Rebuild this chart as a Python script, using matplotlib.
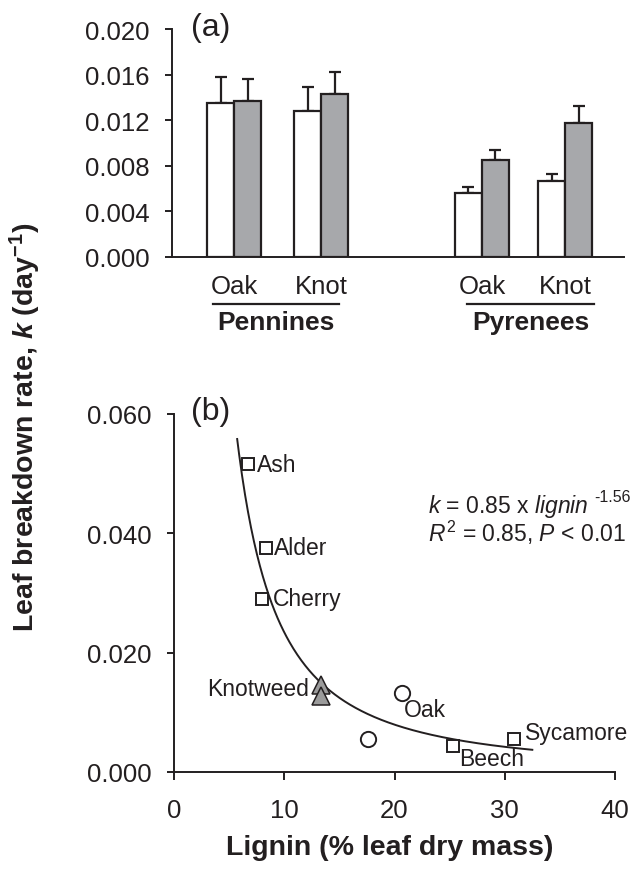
import numpy as np
import matplotlib
matplotlib.use("Agg")
import matplotlib.pyplot as plt
from matplotlib.transforms import blended_transform_factory

plt.rcParams['font.family'] = ['Liberation Sans', 'DejaVu Sans']
plt.rcParams['mathtext.fontset'] = 'custom'
plt.rcParams['mathtext.rm'] = 'Liberation Sans'
plt.rcParams['mathtext.it'] = 'Liberation Sans:italic'
plt.rcParams['mathtext.bf'] = 'Liberation Sans:bold:italic'
plt.rcParams['mathtext.sf'] = 'Liberation Sans:bold'

# ---------------- data: panel (a) ----------------
regions = ["Pennines", "Pyrenees"]
litter = ["Oak", "Knot", "Oak", "Knot"]
k_white = [0.01349, 0.01285, 0.00558, 0.00663]
k_white_err = [0.00233, 0.00210, 0.00058, 0.00064]
k_grey = [0.01366, 0.01434, 0.00855, 0.01177]
k_grey_err = [0.00196, 0.00192, 0.00082, 0.00146]
yticks_a = [0.000, 0.004, 0.008, 0.012, 0.016, 0.020]

# ---------------- data: panel (b) ----------------
species = ["Ash", "Alder", "Cherry", "Beech", "Sycamore"]
lignin_sq = [6.73, 8.33, 7.96, 25.34, 30.86]
k_sq = [0.0516, 0.0376, 0.0290, 0.0043, 0.0055]
lignin_oak = [20.66, 17.59]
k_oak = [0.0133, 0.0055]
lignin_knot = [13.36, 13.36]
k_knot = [0.0146, 0.0128]
fit_a, fit_b = 0.85, -1.56
fit_range = [5.73, 32.5]
xticks_b = [0, 10, 20, 30, 40]
yticks_b = [0.000, 0.020, 0.040, 0.060]

BLACK = '#231f20'
GREY_BAR = '#a7a8ab'
GREY_TRI = '#9b9b9b'
TICK_FS = 18.5
LAB_FS = 20.5
PANEL_FS = 23
PT_FS = 16.5

fig = plt.figure(figsize=(6.34, 8.79), dpi=100)

# ================= panel (a) =================
axa = fig.add_axes([172/634, 1-258/879, (624-172)/634, (258-30)/879])
centers = np.array([2.30, 5.52, 11.48, 14.56])
w = 1.0
ekw = dict(ecolor=BLACK, elinewidth=1.6, capsize=4.5, capthick=1.6)
axa.bar(centers - w/2, k_white, width=w, color='white', edgecolor=BLACK, linewidth=1.6, zorder=3)
axa.bar(centers + w/2, k_grey, width=w, color=GREY_BAR, edgecolor=BLACK, linewidth=1.6, zorder=3)
axa.errorbar(centers - w/2, k_white, yerr=[np.zeros(4), k_white_err], fmt='none', zorder=2, **ekw)
axa.errorbar(centers + w/2, k_grey, yerr=[np.zeros(4), k_grey_err], fmt='none', zorder=2, **ekw)
axa.set_xlim(0, 16.74)
axa.set_ylim(0, 0.020)
axa.set_yticks(yticks_a)
axa.set_yticklabels([f"{v:.3f}" for v in yticks_a])
axa.set_xticks(centers)
axa.set_xticklabels(litter)
for s in ['top', 'right']:
    axa.spines[s].set_visible(False)
for s in ['left', 'bottom']:
    axa.spines[s].set_linewidth(1.4)
    axa.spines[s].set_color(BLACK)
axa.tick_params(axis='y', direction='out', length=5, width=1.4, pad=11, labelsize=TICK_FS, colors=BLACK)
axa.tick_params(axis='x', length=0, pad=12, labelsize=TICK_FS, colors=BLACK)
fig.text(191/634, 1-28/879, "(a)", fontsize=PANEL_FS, va='center', ha='left', color=BLACK)

trans = blended_transform_factory(axa.transData, axa.transAxes)
group_spans = [(1.52, 6.19), (10.93, 15.63)]
for (x0, x1), name in zip(group_spans, regions):
    axa.plot([x0, x1], [-0.208, -0.208], color=BLACK, lw=1.6, transform=trans, clip_on=False)
    axa.text((x0 + x1)/2, -0.283, name, transform=trans, ha='center', va='center',
             fontsize=LAB_FS - 1.5, fontweight='bold', color=BLACK)

# ================= panel (b) =================
axb = fig.add_axes([174/634, 1-773/879, (615-174)/634, (773-415)/879])
xf = np.linspace(fit_range[0], fit_range[1], 300)
axb.plot(xf, fit_a * xf ** fit_b, color=BLACK, lw=1.4, zorder=2)
axb.plot(lignin_sq, k_sq, linestyle='none', marker='s', ms=9, mfc='white', mec=BLACK, mew=1.4, zorder=3)
axb.plot(lignin_oak, k_oak, linestyle='none', marker='o', ms=11, mfc='white', mec=BLACK, mew=1.4, zorder=3)
axb.plot(lignin_knot, k_knot, linestyle='none', marker='^', ms=13, mfc=GREY_TRI, mec=BLACK, mew=1.1, zorder=3)

# label offsets in pixels (positive y = up)
offsets = {"Ash": (9, 0), "Alder": (8, 0), "Cherry": (11, 0),
           "Beech": (6, -12), "Sycamore": (11, 7)}
for name, x, y in zip(species, lignin_sq, k_sq):
    dx, dy = offsets[name]
    axb.annotate(name, (x, y), xytext=(dx, dy), textcoords='offset pixels', ha='left', va='center',
                 fontsize=PT_FS, color=BLACK)
axb.annotate("Oak", (lignin_oak[0], k_oak[0]), xytext=(2, -17), textcoords='offset pixels',
             ha='left', va='center', fontsize=PT_FS, color=BLACK)
axb.annotate("Knotweed", (lignin_knot[0], (k_knot[0] + k_knot[1]) / 2), xytext=(-12, 2),
             textcoords='offset pixels', ha='right', va='center', fontsize=PT_FS, color=BLACK)

t1 = fig.text(428/634, 1-507/879, r"$k$ = 0.85 x $lignin$", fontsize=16.5,
              ha='left', va='center', color=BLACK)
axb.annotate("-1.56", xy=(1.0, 1.0), xycoords=t1, xytext=(6, 3), textcoords='offset pixels',
             ha='left', va='top', fontsize=11.5, color=BLACK, annotation_clip=False)
fig.text(428/634, 1-533/879, r"$R^{2}$ = 0.85, $P$ < 0.01", fontsize=16.5,
         ha='left', va='center', color=BLACK)

axb.set_xlim(0, 40)
axb.set_ylim(0, 0.060)
axb.set_xticks(xticks_b)
axb.set_yticks(yticks_b)
axb.set_yticklabels([f"{v:.3f}" for v in yticks_b])
for s in ['top', 'right']:
    axb.spines[s].set_visible(False)
for s in ['left', 'bottom']:
    axb.spines[s].set_linewidth(1.4)
    axb.spines[s].set_color(BLACK)
axb.tick_params(axis='y', direction='out', length=5, width=1.4, pad=11, labelsize=TICK_FS, colors=BLACK)
axb.tick_params(axis='x', direction='out', length=6, width=1.4, pad=13, labelsize=TICK_FS, colors=BLACK)
fig.text(191/634, 1-412/879, "(b)", fontsize=PANEL_FS, va='center', ha='left', color=BLACK)

# shared labels
fig.text(25/634, 1-427/879, r"Leaf breakdown rate, $\mathbf{k}$ (day$^{\mathsf{-1}}$)", rotation=90,
         ha='center', va='center', fontsize=LAB_FS, fontweight='bold', color=BLACK)
fig.text(390/634, 1-848/879, "Lignin (% leaf dry mass)", ha='center', va='center',
         fontsize=LAB_FS, fontweight='bold', color=BLACK)

fig.savefig("out.png", dpi=100)
